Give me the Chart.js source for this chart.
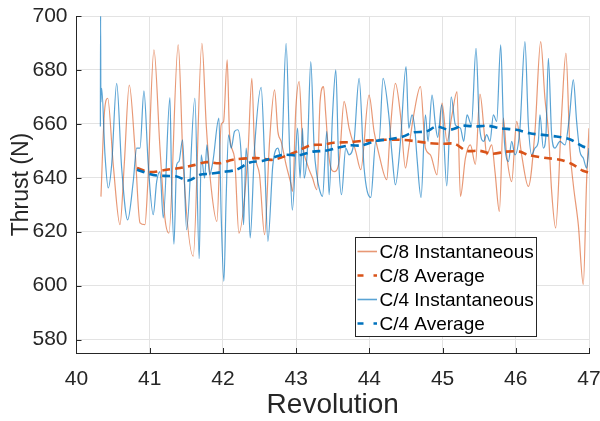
<!DOCTYPE html>
<html>
<head>
<meta charset="utf-8">
<script src="https://cdn.jsdelivr.net/npm/chart.js@4/dist/chart.umd.min.js"></script>
<style>
  html, body { margin: 0; padding: 0; background: #fff; }
  #wrap { width: 600px; height: 421px; }
</style>
</head>
<body>
<div id="wrap"><canvas id="thrustChart" width="600" height="421"></canvas></div>
<script>
// Tick labels
const xTicks = [40, 41, 42, 43, 44, 45, 46, 47];
const yTicks = [580, 600, 620, 640, 660, 680, 700];

const legendLabels = ["C/8 Instantaneous", "C/8 Average", "C/4 Instantaneous", "C/4 Average"];

// C/8 instantaneous thrust
const c8InstRev = [
  40.334, 40.379, 40.426, 40.502, 40.594, 40.652, 40.721, 40.798, 40.867, 40.935,
  40.972, 41.058, 41.140, 41.208, 41.262, 41.389, 41.458, 41.594, 41.713, 41.772,
  41.840, 41.918, 41.976, 42.009, 42.058, 42.091, 42.159, 42.218, 42.341, 42.395,
  42.432, 42.500, 42.569, 42.637, 42.705, 42.750, 42.795, 42.863, 42.932, 42.951,
  42.996, 43.041, 43.087, 43.155, 43.224, 43.282, 43.327, 43.374, 43.405, 43.450,
  43.518, 43.587, 43.655, 43.723, 43.815, 43.883, 43.996, 44.064, 44.133, 44.238,
  44.279, 44.356, 44.425, 44.493, 44.538, 44.606, 44.698, 44.766, 44.834, 44.924,
  44.992, 45.061, 45.129, 45.197, 45.244, 45.312, 45.380, 45.448, 45.511, 45.575,
  45.602, 45.671, 45.716, 45.776, 45.830, 45.875, 45.944, 46.012, 46.080, 46.172,
  46.262, 46.340, 46.398, 46.445, 46.490, 46.544, 46.626, 46.685, 46.739, 46.786,
  46.854, 46.922, 46.967, 47.0
];
const c8InstThrust = [
  633, 663.3, 669.5, 644.8, 622.6, 644.8, 674.4, 651, 623.3, 622.6,
  637, 687.4, 651, 625, 619.5, 689.3, 644.8, 610.9, 689.9, 659.6,
  636.2, 623.8, 659.6, 660.9, 683.7, 655.9, 647.3, 619.5, 648.5, 676.9,
  651, 641.1, 618.9, 653.5, 672.6, 657.2, 653.5, 644.8, 637.4, 634.9,
  665.8, 675.7, 653.5, 644.8, 639.9, 635.6, 668.3, 673.8, 663.3, 647.3,
  642.3, 646, 668.3, 658.4, 649.7, 643, 670.7, 657.2, 648.5, 639.3,
  655, 675, 663.3, 643.6, 651, 663.3, 673.8, 651, 648.5, 641.1,
  667.7, 653.5, 663.3, 672, 633.1, 647.3, 652.2, 645, 671, 655,
  648.5, 652.2, 642.3, 627.5, 662.1, 648.5, 638.6, 660.9, 648.5, 636.8,
  657.2, 690.5, 669.5, 657.2, 634.9, 621.4, 663.3, 686.2, 651, 637.4,
  622.6, 600.4, 638.6, 658.4
];

// C/8 running average
const c8AvgRev = [
  40.826, 41.003, 41.231, 41.413, 41.590, 41.777, 41.958, 42.136, 42.459, 42.686,
  43.005, 43.187, 43.364, 43.514, 43.719, 43.910, 44.115, 44.320, 44.483, 44.643,
  44.825, 45.006, 45.166, 45.325, 45.507, 45.688, 45.871, 46.053, 46.166, 46.417,
  46.599, 46.759, 46.917, 46.995
];
const c8AvgThrust = [
  643.6, 642.1, 643, 643.6, 644.6, 645.8, 645.4, 646.7, 647.3, 646.7,
  649.7, 652, 652.3, 653, 653.2, 653.7, 654, 654.1, 654, 653.5,
  652.8, 652.6, 652.6, 650, 650, 648.9, 649.7, 649.7, 648.5, 647.3,
  646.7, 645.2, 642.6, 642
];

// C/4 instantaneous thrust
const c4InstRev = [
  40.326, 40.329, 40.333, 40.344, 40.389, 40.434, 40.480, 40.549, 40.617, 40.699,
  40.775, 40.822, 40.867, 40.921, 40.980, 41.048, 41.095, 41.140, 41.185, 41.276,
  41.299, 41.331, 41.368, 41.399, 41.449, 41.504, 41.617, 41.676, 41.703, 41.750,
  41.781, 41.818, 41.863, 41.945, 41.976, 42.013, 42.044, 42.077, 42.113, 42.159,
  42.204, 42.249, 42.282, 42.317, 42.341, 42.372, 42.432, 42.522, 42.569, 42.614,
  42.682, 42.750, 42.795, 42.863, 42.910, 42.948, 43.019, 43.054, 43.087, 43.109,
  43.155, 43.200, 43.246, 43.282, 43.314, 43.360, 43.419, 43.450, 43.497, 43.542,
  43.579, 43.619, 43.678, 43.723, 43.791, 43.860, 43.928, 44.019, 44.088, 44.133,
  44.187, 44.265, 44.310, 44.356, 44.425, 44.501, 44.538, 44.583, 44.620, 44.651,
  44.706, 44.766, 44.801, 44.856, 44.902, 44.934, 44.988, 45.057, 45.118, 45.175,
  45.244, 45.289, 45.334, 45.394, 45.457, 45.503, 45.562, 45.602, 45.648, 45.694,
  45.739, 45.794, 45.830, 45.852, 45.899, 45.944, 45.989, 46.057, 46.125, 46.172,
  46.217, 46.262, 46.308, 46.330, 46.376, 46.412, 46.445, 46.490, 46.535, 46.603,
  46.671, 46.731, 46.786, 46.831, 46.876, 46.922, 46.967, 47.0
];
const c4InstThrust = [
  659, 700, 668, 673.2, 648.5, 636.2, 644.8, 675, 643.6, 624.4,
  638.6, 651, 651, 672.2, 644.8, 626.3, 638.6, 642.3, 625.1, 669.7,
  638.6, 615.4, 644.8, 646, 654.1, 620.7, 669.5, 610, 648.5, 639.9,
  652.2, 641.1, 646, 662.1, 626.3, 601.6, 632.4, 655.9, 651, 657.2,
  657.8, 648.5, 622.6, 651, 642.3, 617.7, 651, 673.5, 647.3, 616.4,
  644.8, 651, 647.3, 689.9, 651, 628, 658.4, 639.9, 658.4, 639.9,
  651, 683.1, 651, 641.1, 636.2, 633.1, 657.2, 633.7, 663.3, 680,
  647.3, 633.7, 651, 648.5, 653.5, 676.9, 643.6, 632.7, 653.5, 653.5,
  676.9, 663.3, 648.5, 637.4, 653.5, 681.2, 658.4, 663.3, 658.4, 647.3,
  632.7, 663.3, 653.5, 670.7, 659.6, 655, 667, 637, 670, 659.6,
  658.4, 653.5, 663.3, 659.6, 688, 659.6, 653.5, 656, 653.5, 663.3,
  660.9, 689.3, 660.9, 651, 646, 653.5, 648.5, 658.4, 690.5, 659.6,
  648.5, 651, 653.5, 663.3, 651, 655.9, 684.3, 655.9, 651, 653.5,
  652.2, 662.1, 676.3, 660.9, 649.7, 647.3, 643.6, 651
];

// C/4 running average
const c4AvgRev = [
  40.826, 41.048, 41.208, 41.368, 41.526, 41.686, 41.822, 41.982, 42.186, 42.368,
  42.549, 42.822, 43.027, 43.232, 43.392, 43.551, 43.733, 43.892, 44.097, 44.279,
  44.460, 44.597, 44.780, 44.916, 45.098, 45.279, 45.439, 45.620, 45.780, 46.008,
  46.190, 46.371, 46.554, 46.735, 46.917, 46.995
];
const c4AvgThrust = [
  643, 641, 640.7, 640.5, 639, 641.1, 641.5, 642.1, 643, 645.7,
  646.3, 648.5, 648.3, 649.7, 650, 651, 652, 652, 653.7, 654.3,
  655.3, 656.8, 657.2, 659, 657.8, 659.3, 659, 659.3, 658.4, 657.8,
  656.5, 655.9, 655.3, 654.3, 651.6, 651
];

const FONT = "'Liberation Sans', Arial, Helvetica, sans-serif";
const TEXT = "#262626";
const ORANGE = "#D95319";
const BLUE = "#0072BD";

function toPoints(xs, ys) {
  return xs.map((x, i) => ({ x: x, y: ys[i] }));
}

// MATLAB style: ticks pointing inward and a boxed legend inside the axes
const matlabExtras = {
  id: "matlabExtras",
  afterDraw(chart) {
    const ctx = chart.ctx;
    const area = chart.chartArea;
    const xs = chart.scales.x;
    const ys = chart.scales.y;
    ctx.save();
    ctx.strokeStyle = TEXT;
    ctx.lineWidth = 1;
    ctx.beginPath();
    xTicks.slice(1).forEach((v) => {
      const px = Math.round(xs.getPixelForValue(v)) + 0.5;
      ctx.moveTo(px, area.bottom);
      ctx.lineTo(px, area.bottom - 5);
    });
    yTicks.forEach((v) => {
      const py = Math.round(ys.getPixelForValue(v)) + 0.5;
      ctx.moveTo(area.left, py);
      ctx.lineTo(area.left + 5, py);
    });
    ctx.stroke();

    // legend box
    const bx = 355.5, by = 237.5, bw = 181, bh = 99;
    ctx.fillStyle = "#fff";
    ctx.fillRect(bx, by, bw, bh);
    ctx.strokeStyle = "#262626";
    ctx.strokeRect(bx, by, bw, bh);

    ctx.font = "19px " + FONT;
    ctx.textBaseline = "middle";
    ctx.textAlign = "left";
    chart.data.datasets.forEach((ds, i) => {
      const y = by + 14 + i * 24;
      const dashed = ds.borderDash && ds.borderDash.length;
      ctx.save();
      ctx.strokeStyle = ds.borderColor;
      ctx.lineWidth = dashed ? ds.borderWidth : 1.6;
      if (dashed) ctx.setLineDash([6, 10]);
      ctx.beginPath();
      ctx.moveTo(bx + 2, y);
      ctx.lineTo(bx + 21.5, y);
      ctx.stroke();
      ctx.restore();
      ctx.fillStyle = "#000";
      ctx.fillText(legendLabels[i], bx + 24, y + 1);
    });
    ctx.restore();
  },
};

document.addEventListener("DOMContentLoaded", () => {
  const ctx = document.getElementById("thrustChart").getContext("2d");

  new Chart(ctx, {
    type: "line",
    data: {
      datasets: [
        {
          label: legendLabels[0],
          data: toPoints(c8InstRev, c8InstThrust),
          borderColor: "rgba(217, 83, 25, 0.6)",
          borderWidth: 1.2,
          cubicInterpolationMode: "monotone",
          order: 4,
        },
        {
          label: legendLabels[1],
          data: toPoints(c8AvgRev, c8AvgThrust),
          borderColor: ORANGE,
          borderWidth: 2.6,
          borderDash: [8, 5],
          tension: 0.3,
          order: 1,
        },
        {
          label: legendLabels[2],
          data: toPoints(c4InstRev, c4InstThrust),
          borderColor: "rgba(0, 114, 189, 0.65)",
          borderWidth: 1.2,
          cubicInterpolationMode: "monotone",
          order: 3,
        },
        {
          label: legendLabels[3],
          data: toPoints(c4AvgRev, c4AvgThrust),
          borderColor: BLUE,
          borderWidth: 2.6,
          borderDash: [8, 5],
          tension: 0.3,
          order: 0,
        },
      ],
    },
    options: {
      responsive: false,
      animation: false,
      events: [],
      layout: { padding: { top: 16, right: 11, bottom: 0, left: 0 } },
      elements: { point: { radius: 0 } },
      plugins: {
        legend: { display: false },
        tooltip: { enabled: false },
      },
      scales: {
        x: {
          type: "linear",
          min: 40,
          max: 47,
          afterBuildTicks: (scale) => {
            scale.ticks = xTicks.map((v) => ({ value: v }));
          },
          afterFit: (scale) => {
            scale.height = 68;
            // the "47" label may hang over the right edge, like in MATLAB
            scale.paddingRight = 0;
            scale.paddingLeft = 0;
          },
          ticks: {
            color: TEXT,
            font: { family: FONT, size: 21 },
            padding: 14,
            maxRotation: 0,
            autoSkip: false,
          },
          grid: { color: "#e3e3e3", drawTicks: false },
          border: { color: TEXT },
          title: {
            display: true,
            text: "Revolution",
            color: TEXT,
            font: { family: FONT, size: 28 },
            padding: { top: 0, bottom: -1 },
          },
        },
        y: {
          min: 575,
          max: 700,
          afterBuildTicks: (scale) => {
            scale.ticks = yTicks.map((v) => ({ value: v }));
          },
          afterFit: (scale) => {
            scale.width = 76.5;
            scale.paddingTop = 0;
            scale.paddingBottom = 0;
          },
          ticks: {
            color: TEXT,
            font: { family: FONT, size: 21 },
            padding: 9,
          },
          grid: { color: "#e3e3e3", drawTicks: false },
          border: { color: TEXT },
          title: {
            display: true,
            text: "Thrust (N)",
            color: TEXT,
            font: { family: FONT, size: 23 },
            padding: { top: 8, bottom: 0 },
          },
        },
      },
    },
    plugins: [matlabExtras],
  });
});
</script>
</body>
</html>
